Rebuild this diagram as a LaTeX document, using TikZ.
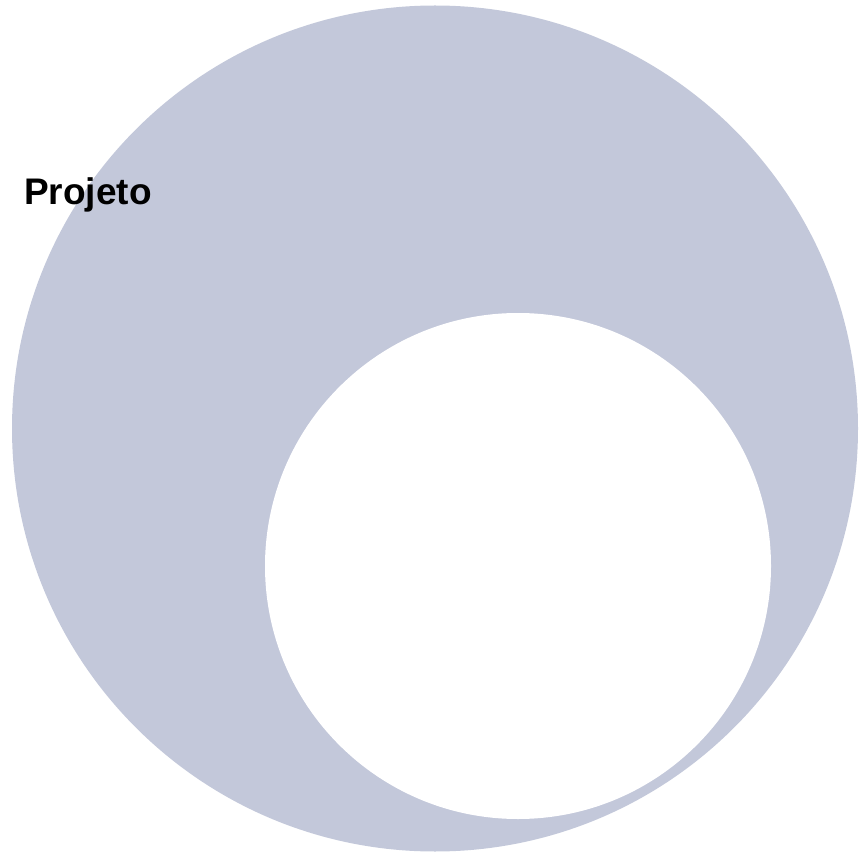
\documentclass[tikz,border=0pt]{standalone}
\usepackage{fontspec}
\setmainfont{Liberation Sans}
\definecolor{ringfill}{HTML}{C3C8DA}
\begin{document}
\begin{tikzpicture}[x=1pt,y=-1pt,
  lbl/.style={anchor=base west,inner sep=0pt,font=\fontsize{37}{40}\selectfont\bfseries}]
\useasboundingbox (0,0) rectangle (862,858);
\fill[ringfill] (435,428.5) circle[radius=423];
\fill[white] (518,566) circle[radius=253];
\node[lbl] (projeto) at (24,205) {Projeto};
\end{tikzpicture}
\end{document}
